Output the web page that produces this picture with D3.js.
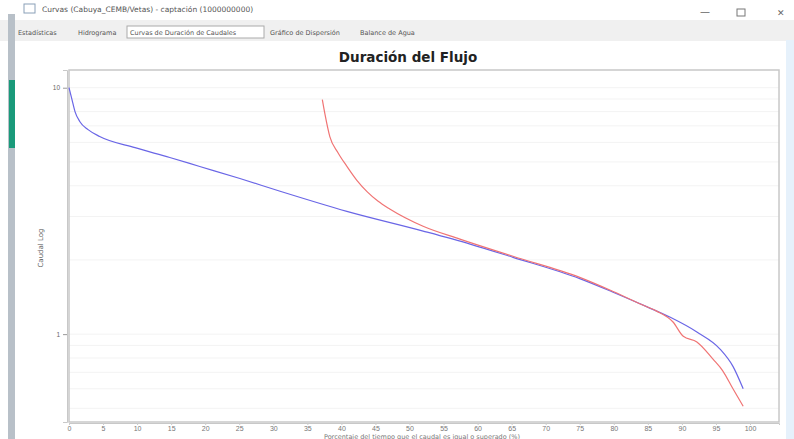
<!DOCTYPE html>
<html><head><meta charset="utf-8">
<script src="https://cdn.jsdelivr.net/npm/d3@7"></script>
<style>body{margin:0;background:#fff;overflow:hidden}svg{display:block;font-family:"DejaVu Sans",sans-serif}</style>
</head><body>
<svg id="c" width="794" height="439"></svg>
<script>
// ---- data ----
const windowTitle = "Curvas (Cabuya_CEMB/Vetas) - captación (1000000000)";
const tabs = ["Estadísticas","Hidrograma","Curvas de Duración de Caudales","Gráfico de Dispersión","Balance de Agua"];
const chartTitle = "Duración del Flujo";
const yTitle = "Caudal Log";
const xTitle = "Porcentaje del tiempo que el caudal es igual o superado (%)";
const xTicks = [0,5,10,15,20,25,30,35,40,45,50,55,60,65,70,75,80,85,90,95,100];
const yTickLabels = [1,10];
const yMinor = [0.5,0.6,0.7,0.8,0.9,2,3,4,5,6,7,8,9];
// series 1 (blue): [% exceedance, flow]
const bluePct  = [0,0.44,0.88,1.6,2.8,4.5,9.7,14.8,19.2,25.1,31,40.8,52,58.9,65.2,75,79.9,84.9,88.3,92.2,95.6,97.5,99];
const blueVal  = [10,8.94,8.0,7.28,6.76,6.34,5.71,5.21,4.79,4.28,3.80,3.15,2.62,2.32,2.05,1.68,1.48,1.29,1.17,1.02,0.87,0.74,0.60];
// series 2 (red)
const redPct = [37.2,37.6,38.3,39.5,40.8,42.3,43.8,45.4,47.1,52,57.4,65.2,75,79.9,84.6,86.3,88.7,90.2,92.2,94.6,96,97.5,99];
const redVal = [8.94,7.77,6.33,5.45,4.80,4.20,3.78,3.46,3.22,2.74,2.43,2.07,1.70,1.49,1.30,1.24,1.12,0.98,0.93,0.79,0.71,0.60,0.51];

const svg = d3.select("#c");
// ---- window chrome ----
svg.append("rect").attr("x",0).attr("y",0).attr("width",794).attr("height",439).attr("fill","#fff");
svg.append("rect").attr("x",0).attr("y",20).attr("width",794).attr("height",21).attr("fill","#f0f0f0");
svg.append("rect").attr("x",8).attr("y",14).attr("width",7).attr("height",425).attr("fill","#b8c0c8");
svg.append("rect").attr("x",9).attr("y",80).attr("width",6).attr("height",68).attr("fill","#1a9a7a");
svg.append("rect").attr("x",786).attr("y",40).attr("width",8).attr("height",399).attr("fill","#e6f1fb");
svg.append("rect").attr("x",24).attr("y",4).attr("width",11).attr("height",9).attr("fill","none").attr("stroke","#8aa0b8");
svg.append("text").attr("x",42).attr("y",12).attr("font-size",7.5).attr("fill","#555").text(windowTitle);
svg.append("text").attr("x",700).attr("y",15).attr("font-size",10).attr("fill","#666").text("—");
svg.append("rect").attr("x",737).attr("y",9).attr("width",8).attr("height",7).attr("fill","none").attr("stroke","#777");
svg.append("text").attr("x",777).attr("y",16).attr("font-size",9).attr("fill","#666").text("✕");
const tabX = [18,78,130,270,360];
tabs.forEach((t,i)=>{
  if(i===2) svg.append("rect").attr("x",127).attr("y",26).attr("width",137).attr("height",12).attr("fill","#fff").attr("stroke","#aaa");
  svg.append("text").attr("x",tabX[i]).attr("y",35).attr("font-size",6.5).attr("fill","#555").text(t);
});

// ---- chart ----
const L=69,R=779,T=70,B=422;
const x = d3.scaleLinear().domain([0,104.26]).range([L,R]);
const y = d3.scaleLog().domain([0.44,11.8]).range([B,T]);

svg.append("text").attr("x",408).attr("y",62).attr("text-anchor","middle")
  .attr("font-size",13.5).attr("font-weight","bold").attr("fill","#222").text(chartTitle);

svg.append("g").selectAll("line").data(yMinor.concat(yTickLabels)).join("line")
  .attr("x1",L).attr("x2",R).attr("y1",d=>y(d)).attr("y2",d=>y(d))
  .attr("stroke","#f3f3f3").attr("stroke-width",1);
svg.append("rect").attr("x",L).attr("y",T).attr("width",R-L).attr("height",B-T)
  .attr("fill","none").attr("stroke","#c8c8c8").attr("stroke-width",1.5);

// x axis
const xa = svg.append("g").attr("transform",`translate(0,${B+1})`)
  .call(d3.axisBottom(x).tickValues(xTicks).tickSize(2).tickPadding(1.5).tickFormat(d3.format("d")));
xa.select(".domain").attr("stroke","#c8c8c8");
xa.selectAll("line").attr("stroke","#ccc");
xa.selectAll("text").attr("font-size",7).attr("fill","#777");
// y axis
const ya = svg.append("g").attr("transform",`translate(${L-2},0)`)
  .call(d3.axisLeft(y).tickValues(yTickLabels).tickSize(4).tickFormat(d3.format("d")));
ya.select(".domain").attr("stroke","#c8c8c8");
ya.selectAll("line").attr("stroke","#999");
ya.selectAll("text").attr("font-size",6.5).attr("fill","#666");

svg.append("text").attr("transform","translate(43,248) rotate(-90)").attr("text-anchor","middle")
  .attr("font-size",7).attr("fill","#666").text(yTitle);
svg.append("text").attr("x",422).attr("y",438.5).attr("text-anchor","middle")
  .attr("font-size",6.5).attr("fill","#777").text(xTitle);

const line = d3.line().x(d=>x(d[0])).y(d=>y(d[1])).curve(d3.curveMonotoneX);
svg.append("path").datum(bluePct.map((p,i)=>[p,blueVal[i]])).attr("d",line)
  .attr("fill","none").attr("stroke","#6a66e6").attr("stroke-width",1.2);
svg.append("path").datum(redPct.map((p,i)=>[p,redVal[i]])).attr("d",line)
  .attr("fill","none").attr("stroke","#f07474").attr("stroke-width",1.2);
</script>
</body></html>
